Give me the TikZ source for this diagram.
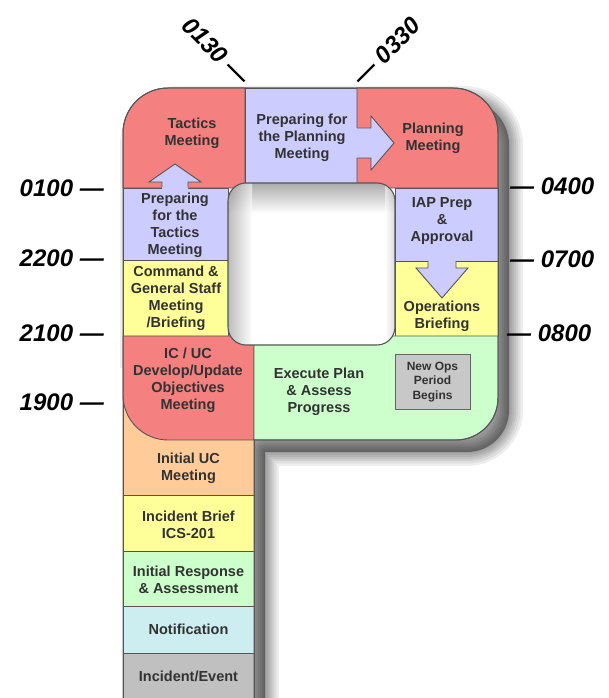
\documentclass[tikz,border=0pt]{standalone}
\usepackage{fontspec}
\setmainfont{Liberation Sans}
\definecolor{cred}{RGB}{244,128,128}
\definecolor{clav}{RGB}{204,204,255}
\definecolor{cyel}{RGB}{255,255,153}
\definecolor{cgrn}{RGB}{204,255,204}
\definecolor{cpch}{RGB}{255,204,153}
\definecolor{ccyn}{RGB}{204,238,240}
\definecolor{cgry}{RGB}{192,192,192}
\definecolor{cbox}{RGB}{200,200,200}
\definecolor{cline}{RGB}{85,85,85}
\definecolor{ctxt}{RGB}{50,50,50}
\tikzset{
  region/.style={fill=#1, draw=cline, line width=0.9pt, line join=round},
  lbl/.style={font=\bfseries\fontsize{14.5}{17}\selectfont, align=center, text=ctxt, inner sep=0pt},
  smalllbl/.style={font=\bfseries\fontsize{12}{14.5}\selectfont, align=center, text=ctxt, inner sep=0pt},
  timelbl/.style={font=\bfseries\itshape\fontsize{24}{28}\selectfont, text=black, inner sep=0pt},
  arrowfill/.style={fill=clav},
  arrowline/.style={draw=cline, line width=0.9pt, line join=miter},
  shadowlayer/.style={fill=black, draw=black, line width=#1, opacity=0.065, line join=round},
}
\newcommand{\outershape}{(123,-30) -- (123,565) arc[start angle=180,end angle=90,radius=45pt]
  -- (453,610) arc[start angle=90,end angle=0,radius=45pt]
  -- (498,300) arc[start angle=0,end angle=-90,radius=42pt]
  -- (254,258) -- (254,-30) -- cycle}
\begin{document}
\begin{tikzpicture}[x=1pt,y=1pt]
\useasboundingbox (0,0) rectangle (609,698);
\begin{scope}
\clip (0,0) rectangle (609,698);
% soft drop shadow
\begin{scope}[shift={(11,-12)}]
\foreach \w in {28,23,18,14,10,6,2} {
  \path[shadowlayer=\w pt] \outershape;
}
\end{scope}
\fill[white] (90,-5) rectangle (123,330);
\fill[white] \outershape;
% stem
\path[region=cpch] (123,203) rectangle (254,320);
\path[region=cyel] (123,147) rectangle (254,203);
\path[region=cgrn] (123,92) rectangle (254,147);
\path[region=ccyn] (123,45) rectangle (254,92);
\path[region=cgry] (123,-5) rectangle (254,45);
% loop regions
\path[region=cred] (123,510) -- (123,565) arc[start angle=180,end angle=90,radius=45pt] -- (245,610) -- (245,510) -- cycle;
\path[region=clav] (245,505) rectangle (357,610);
\path[region=cred] (357,510) -- (357,610) -- (453,610) arc[start angle=90,end angle=0,radius=45pt] -- (498,510) -- cycle;
\path[region=clav] (123,438) rectangle (228,510);
\path[region=cyel] (123,362) rectangle (228,438);
\path[region=clav] (395,437) rectangle (498,510);
\path[region=cyel] (395,362) rectangle (498,437);
\path[region=cred] (123,362) -- (123,303) arc[start angle=180,end angle=270,radius=45pt] -- (254,258) -- (254,362) -- cycle;
\path[region=cgrn] (254,362) -- (254,258) -- (456,258) arc[start angle=270,end angle=360,radius=42pt] -- (498,362) -- cycle;
% up arrow into Tactics Meeting
\fill[arrowfill] (162,505) -- (162,516) -- (149,516) -- (175,534) -- (201,516) -- (188,516) -- (188,505) -- cycle;
\draw[arrowline] (162,510.5) -- (162,516) -- (149,516) -- (175,534) -- (201,516) -- (188,516) -- (188,510.5);
% right arrow into Planning Meeting
\fill[arrowfill] (350,540) -- (371,540) -- (371,528) -- (394,555) -- (371,582) -- (371,570) -- (350,570) -- cycle;
\draw[arrowline] (357,540) -- (371,540) -- (371,528) -- (394,555) -- (371,582) -- (371,570) -- (357,570);
% down arrow into Operations Briefing
\fill[arrowfill] (428,443) -- (428,430) -- (416,430) -- (442,400) -- (468,430) -- (456,430) -- (456,443) -- cycle;
\draw[arrowline] (428,437) -- (428,430) -- (416,430) -- (442,400) -- (468,430) -- (456,430) -- (456,437);
% hole
\begin{scope}
\clip[rounded corners=18pt] (228,353) rectangle (395,515);
\fill[white] (228,353) rectangle (395,515);
\shade[top color=black!45, bottom color=white, opacity=0.75] (220,485) rectangle (400,516);
\shade[left color=black!45, right color=white, opacity=0.6] (227,353) rectangle (252,516);
\shade[right color=black!30, left color=white, opacity=0.5] (385,353) rectangle (396,516);
\end{scope}
\draw[cline, line width=1.1pt, rounded corners=18pt] (228,353) rectangle (395,515);
% new ops box
\path[fill=cbox, draw=black!60, line width=1pt] (395,288) rectangle (470,343);
% outer border
\draw[cline, line width=1pt, line join=round] \outershape;
\end{scope}
% labels
\node[lbl] (tactics) at (192,565) {Tactics\\Meeting};
\node[lbl] (prepplan) at (302,560) {Preparing for\\the Planning\\Meeting};
\node[lbl] (planning) at (433,560) {Planning\\Meeting};
\node[lbl] (preptac) at (175,473) {Preparing\\for the\\Tactics\\Meeting};
\node[lbl] (cgs) at (176,400) {Command \&\\General Staff\\Meeting\\/Briefing};
\node[lbl] (icuc) at (188,318) {IC / UC\\Develop/Update\\Objectives\\Meeting};
\node[lbl] (iap) at (442,477) {IAP Prep\\\&\\Approval};
\node[lbl] (ops) at (442,382) {Operations\\Briefing};
\node[lbl] (exec) at (319,306) {Execute Plan\\\& Assess\\Progress};
\node[smalllbl] (newops) at (432.5,316) {New Ops\\Period\\Begins};
\node[lbl] (iuc) at (188.5,230) {Initial UC\\Meeting};
\node[lbl] (brief) at (188.5,173) {Incident Brief\\ICS-201};
\node[lbl] (resp) at (188.5,118) {Initial Response\\\& Assessment};
\node[lbl] (notif) at (188.5,69) {Notification};
\node[lbl] (event) at (188.5,22) {Incident/Event};
% time labels
\node[timelbl, anchor=east] (t0100) at (104,510) {0100 —};
\node[timelbl, anchor=east] (t2200) at (104,440) {2200 —};
\node[timelbl, anchor=east] (t2100) at (104,365) {2100 —};
\node[timelbl, anchor=east] (t1900) at (104,296) {1900 —};
\node[timelbl, anchor=west] (t0400) at (510,512) {— 0400};
\node[timelbl, anchor=west] (t0700) at (510,439) {— 0700};
\node[timelbl, anchor=west] (t0800) at (507,365) {— 0800};
\node[timelbl, anchor=east, rotate=-45] (t0130) at (246,617) {0130 —};
\node[timelbl, anchor=west, rotate=45] (t0330) at (357,617) {— 0330};
\end{tikzpicture}
\end{document}
